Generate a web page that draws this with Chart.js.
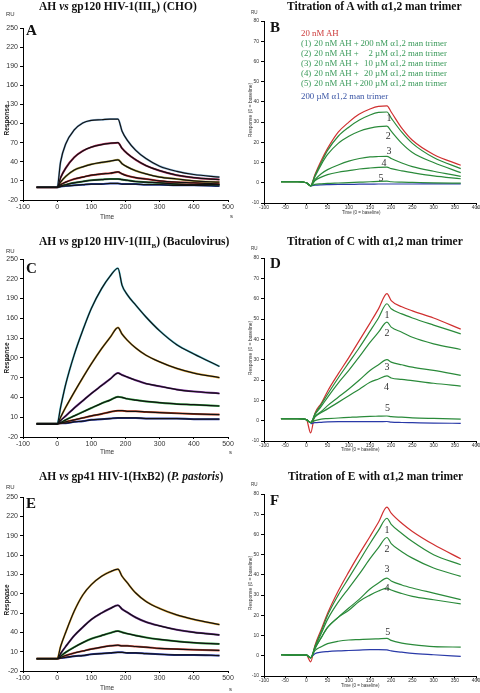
<!DOCTYPE html>
<html>
<head>
<meta charset="utf-8">
<script src="https://cdn.jsdelivr.net/npm/chart.js@4"></script>
<style>
  body { margin: 0; width: 480px; height: 693px; background: #fff; position: relative; overflow: hidden; font-family: "Liberation Serif", serif; }
  canvas { position: absolute; }
  .title { position: absolute; font-weight: bold; font-size: 11.5px; white-space: nowrap; color: #111; }
  .title sub { font-size: 7px; }
  .letter { position: absolute; font-weight: bold; font-size: 15px; color: #111; }
  .small { position: absolute; font-family: "Liberation Sans", sans-serif; font-size: 6px; color: #333; white-space: nowrap; }
  .ylab { position: absolute; font-family: "Liberation Sans", sans-serif; font-weight: bold; font-size: 6.5px; color: #222; white-space: nowrap; transform: translate(-50%, -50%) rotate(-90deg); }
  .ylab2 { position: absolute; font-family: "Liberation Sans", sans-serif; font-size: 5px; color: #333; white-space: nowrap; transform: translate(-50%, -50%) rotate(-90deg); }
  .legend { position: absolute; font-size: 8.8px; line-height: 10px; white-space: nowrap; }
  .legend span { display: inline-block; white-space: nowrap; }
  .c1 { width: 13px; }
  .c2 { width: 45px; }
  .c3 { width: 29px; text-align: right; }
</style>
</head>
<body>
<canvas id="cA" width="240" height="230" style="left:0;top:0"></canvas>
<canvas id="cB" width="240" height="230" style="left:240px;top:0"></canvas>
<canvas id="cC" width="240" height="230" style="left:0;top:230px"></canvas>
<canvas id="cD" width="240" height="230" style="left:240px;top:230px"></canvas>
<canvas id="cE" width="240" height="233" style="left:0;top:460px"></canvas>
<canvas id="cF" width="240" height="233" style="left:240px;top:460px"></canvas>

<div class="title" style="left:39px;top:0px">AH <i>vs</i> gp120 HIV-1(III<sub>B</sub>) (CHO)</div>
<div class="title" style="left:287px;top:0px">Titration of A with α1,2 man trimer</div>
<div class="title" style="left:39px;top:235px">AH <i>vs</i> gp120 HIV-1(III<sub>B</sub>) (Baculovirus)</div>
<div class="title" style="left:287px;top:235px">Titration of C with α1,2 man trimer</div>
<div class="title" style="left:39px;top:470px">AH <i>vs</i> gp41 HIV-1(HxB2) (<i>P. pastoris</i>)</div>
<div class="title" style="left:288px;top:470px">Titration of E with α1,2 man trimer</div>

<div class="letter" style="left:26px;top:22px">A</div>
<div class="letter" style="left:270px;top:19px">B</div>
<div class="letter" style="left:26px;top:260px">C</div>
<div class="letter" style="left:270px;top:255px">D</div>
<div class="letter" style="left:26px;top:495px">E</div>
<div class="letter" style="left:270px;top:492px">F</div>

<div class="small" style="left:6px;top:11px">RU</div>
<div class="small" style="left:251px;top:10px;font-size:4.5px">RU</div>
<div class="small" style="left:6px;top:248px">RU</div>
<div class="small" style="left:251px;top:246px;font-size:4.5px">RU</div>
<div class="small" style="left:6px;top:484px">RU</div>
<div class="small" style="left:251px;top:482px;font-size:4.5px">RU</div>

<div class="small" style="left:230px;top:213px">s</div>
<div class="small" style="left:476px;top:204px;font-size:5px">s</div>
<div class="small" style="left:229px;top:449px">s</div>
<div class="small" style="left:476px;top:441px;font-size:5px">s</div>
<div class="small" style="left:229px;top:686px">s</div>
<div class="small" style="left:476px;top:676px;font-size:5px">s</div>

<div class="small" style="left:100px;top:213px;font-size:6.5px">Time</div>
<div class="small" style="left:100px;top:448px;font-size:6.5px">Time</div>
<div class="small" style="left:100px;top:684px;font-size:6.5px">Time</div>
<div class="small" style="left:342px;top:210px;font-size:4.5px">Time (0 = baseline)</div>
<div class="small" style="left:341px;top:447px;font-size:4.5px">Time (0 = baseline)</div>
<div class="small" style="left:341px;top:683px;font-size:4.5px">Time (0 = baseline)</div>

<div class="ylab" style="left:6px;top:120px">Response</div>
<div class="ylab" style="left:6px;top:358px">Response</div>
<div class="ylab" style="left:6px;top:600px">Response</div>
<div class="ylab2" style="left:250px;top:110px">Response (0 = baseline)</div>
<div class="ylab2" style="left:250px;top:348px">Response (0 = baseline)</div>
<div class="ylab2" style="left:250px;top:583px">Response (0 = baseline)</div>

<div class="legend" style="left:301px;top:28px">
  <div style="color:#cc3a3a">20 nM AH</div>
  <div style="color:#3a9a5a"><span class="c1">(1)</span><span class="c2">20 nM AH +</span><span class="c3">200 nM</span>&nbsp;α1,2 man trimer</div>
  <div style="color:#3a9a5a"><span class="c1">(2)</span><span class="c2">20 nM AH +</span><span class="c3">2 µM</span>&nbsp;α1,2 man trimer</div>
  <div style="color:#3a9a5a"><span class="c1">(3)</span><span class="c2">20 nM AH +</span><span class="c3">10 µM</span>&nbsp;α1,2 man trimer</div>
  <div style="color:#3a9a5a"><span class="c1">(4)</span><span class="c2">20 nM AH +</span><span class="c3">20 µM</span>&nbsp;α1,2 man trimer</div>
  <div style="color:#3a9a5a"><span class="c1">(5)</span><span class="c2">20 nM AH +</span><span class="c3">200 µM</span>&nbsp;α1,2 man trimer</div>
  <div style="color:#3a55a5;margin-top:2.5px">200 µM α1,2 man trimer</div>
</div>

<script>
// time axes (s)
const timeLeft = [-60, 0, 10, 25, 50, 75, 100, 130, 155, 178, 190, 205, 230, 260, 300, 350, 400, 475];
const timeRight = [-60, -20, 0, 10, 20, 35, 50, 75, 100, 125, 150, 170, 190, 200, 225, 250, 300, 364];

// A: AH vs gp120 (CHO), RU
const choResp = [
  [0, 0, 40, 68, 90, 101, 105, 106, 107, 107, 88, 74, 58, 45, 33, 25, 20, 16],
  [0, 0, 15, 30, 47, 57, 63, 67, 69, 70, 61, 53, 43, 34, 26, 19, 15, 12],
  [0, 0, 8, 17, 27, 32, 36, 39, 41, 43, 37, 32, 26, 21, 16, 13, 10, 8],
  [0, 0, 4, 8, 13, 16, 19, 21, 22, 24, 21, 18, 15, 13, 10, 8, 7, 5],
  [0, 0, 2, 4, 7, 9, 11, 12, 13, 13, 12, 11, 9, 8, 7, 5, 4, 4],
  [0, 0, 1, 2, 3, 4, 5, 5, 6, 6, 5, 5, 5, 4, 4, 3, 3, 2]
];
// C: AH vs gp120 (Baculovirus)
const bacResp = [
  [0, 0, 25, 60, 105, 142, 175, 205, 224, 236, 210, 196, 180, 162, 141, 120, 106, 87],
  [0, 0, 10, 25, 48, 70, 91, 114, 131, 146, 136, 127, 115, 104, 94, 84, 77, 70],
  [0, 0, 5, 12, 24, 35, 46, 58, 68, 77, 74, 71, 66, 61, 57, 52, 49, 46],
  [0, 0, 2, 6, 12, 18, 24, 31, 36, 41, 40, 38, 36, 34, 32, 30, 29, 27],
  [0, 0, 1, 3, 6, 9, 12, 15, 18, 20, 20, 19, 19, 18, 17, 16, 15, 14],
  [0, 0, 1, 1, 3, 4, 6, 7, 8, 9, 9, 9, 9, 8, 8, 8, 7, 7]
];
// E: AH vs gp41 (P. pastoris)
const pasResp = [
  [-1, -1, 18, 40, 73, 98, 114, 127, 134, 138, 127, 117, 101, 88, 77, 67, 60, 52],
  [-1, -1, 7, 18, 35, 48, 60, 70, 77, 82, 76, 71, 63, 56, 50, 44, 40, 36],
  [-1, -1, 3, 9, 17, 24, 30, 35, 39, 42, 40, 38, 35, 32, 29, 26, 24, 22],
  [-1, -1, 1, 4, 8, 11, 14, 17, 19, 20, 19, 19, 18, 17, 15, 14, 13, 12],
  [-1, -1, 0, 1, 3, 4, 6, 7, 8, 9, 9, 8, 8, 7, 6, 5, 5, 4]
];

// B: titration of A (20 nM AH, mixes 1-5, trimer alone)
const titrA = [
  [0.5, 0.5, 0, -1.5, 4, 11, 17, 25, 30, 34, 36.5, 37.8, 38, 35, 27, 21, 14, 8.7],
  [0.5, 0.5, 0, -1.5, 3.5, 10, 16, 23, 27.5, 31, 33.5, 34.8, 35, 32, 25, 19.5, 12.5, 7],
  [0.5, 0.5, 0, -1.5, 3, 9, 14, 19.5, 23, 25.5, 27, 27.8, 28, 25.5, 19.5, 15, 10, 5],
  [0.5, 0.5, 0, -1.5, 1.5, 4.5, 6.5, 8.8, 10.7, 12, 12.8, 13, 13.1, 12, 9.8, 8, 5.7, 3.2],
  [0.5, 0.5, 0, -1.5, 1, 2.8, 4, 5.2, 6, 6.8, 7.3, 7.6, 7.7, 7, 5.9, 5, 3.4, 2],
  [0.5, 0.5, 0, -1.5, -0.8, -0.5, -0.3, -0.1, 0.1, 0.3, 0.5, 0.7, 0.8, 0.5, 0.3, 0.2, 0, -0.2],
  [null, null, null, -1.5, -1.2, -1, -0.9, -0.8, -0.8, -0.7, -0.7, -0.6, -0.6, -0.6, -0.6, -0.6, -0.5, -0.5]
];
// D: titration of C
const titrC = [
  [1, 1, 0.5, -6, 3.5, 8.5, 14.5, 23, 31, 39.5, 48, 55, 62.5, 59, 56, 54, 50.5, 45],
  [1, 1, 0.5, -1, 3.2, 8, 13, 21, 28.5, 36, 44, 50.5, 57.5, 55, 52.5, 50.5, 47, 42.7],
  [1, 1, 0.5, -1, 3, 7, 11.5, 18.5, 24.7, 31.5, 38.5, 43.5, 48.5, 46, 43.5, 41, 37.8, 35],
  [1, 1, 0.5, -1, 2, 4.5, 7.4, 11.5, 15.6, 20, 24.7, 27.5, 30, 28.8, 27.5, 26.3, 24.7, 22.3],
  [1, 1, 0.5, -1, 1.8, 4, 5.8, 9, 12.3, 15.5, 18.9, 20.5, 22, 21, 20.3, 19.7, 18.4, 17],
  [1, 1, 0.5, -1, 0, 0.8, 1, 1.3, 1.6, 1.9, 2.1, 2.2, 2.3, 2, 1.7, 1.4, 1.1, 0.8],
  [null, null, null, -1.5, -1, -0.8, -0.6, -0.5, -0.5, -0.5, -0.5, -0.5, -0.4, -0.7, -0.9, -1, -1.2, -1.3]
];
// F: titration of E
const titrE = [
  [0.5, 0.3, 0.3, -3, 5, 13, 21, 32, 41.5, 50.5, 59, 66, 73.5, 70.5, 65.5, 61.5, 55, 48],
  [0.5, 0.3, 0.3, -1, 4.5, 12, 20, 30, 38.5, 47, 55.5, 62, 68, 65, 60.5, 56.5, 50, 45],
  [0.5, 0.3, 0.3, -1, 4, 11, 18, 26.5, 33.5, 40.5, 48, 53.5, 58.5, 55.5, 51.5, 48.3, 43.4, 39.3],
  [0.5, 0.3, 0.3, -1, 3.5, 9, 14, 19, 23.6, 28, 33, 36, 38.4, 37, 35, 33.5, 31, 27.8],
  [0.5, 0.3, 0.3, -1, 3.5, 9, 14, 19, 22.5, 27, 30, 32, 33.5, 32.5, 30.8, 29.4, 27.7, 25.7],
  [0.5, 0.3, 0.3, -1, 2.5, 4.5, 6, 7.2, 7.8, 8, 8.2, 8.4, 8.6, 7.6, 6.3, 5.5, 4.5, 4.3],
  [null, null, null, -1, 1, 1.8, 2.1, 2.4, 2.6, 2.8, 3, 3, 2.9, 2.4, 1.8, 1.2, 0.5, -0.3]
];

// curve number labels (1..5) in B, D, F
const markText = ['1', '2', '3', '4', '5'];
const marksB = { x: [195, 193, 195, 183, 176], y: [32, 23, 15.5, 9.4, 2.4] };
const marksD = { x: [190, 190, 190, 189, 191], y: [52, 43, 26.3, 16.4, 6.1] };
const marksF = { x: [190, 190, 190, 190, 192], y: [62, 52.8, 42.6, 33.5, 11.6] };

const colA = ['#8ab4d8', '#b02858', '#a89838', '#c83030', '#2a7a3a', '#2848b0'];
const colC = ['#60c8d8', '#e0a838', '#7a2a9a', '#30a040', '#c84020', '#2838a8'];
const colE = ['#e0a838', '#6a2a8a', '#30a040', '#c84838', '#2838a8'];
const colTitr = ['#d03030', '#2a8a3a', '#2a8a3a', '#2a8a3a', '#2a8a3a', '#2a8a3a', '#2a3aa8'];

const toPts = (times, vals) => times.map((t, i) => ({ x: t, y: vals[i] }));

const markPlugin = {
  id: 'marks',
  afterDatasetsDraw(chart, args, opts) {
    if (!opts.x) return;
    const { ctx, scales } = chart;
    ctx.save();
    ctx.font = '10px "Liberation Serif", serif';
    ctx.fillStyle = '#333';
    ctx.textAlign = 'center';
    ctx.textBaseline = 'middle';
    markText.forEach((m, i) => {
      ctx.fillText(m, scales.x.getPixelForValue(opts.x[i]), scales.y.getPixelForValue(opts.y[i]));
    });
    ctx.restore();
  }
};

function sensorgram(id, cfg) {
  const datasets = [];
  cfg.series.forEach((s, i) => {
    if (cfg.fit) {
      // measured trace (coloured) under the black fitted curve
      datasets.push({ data: toPts(cfg.times, s), borderColor: cfg.colors[i], borderWidth: 2, order: 1 });
      datasets.push({ data: toPts(cfg.times, s), borderColor: '#111', borderWidth: 1.2, order: 0 });
    } else {
      datasets.push({ data: toPts(cfg.times, s), borderColor: cfg.colors[i], borderWidth: 1.2, order: i === 0 ? 2 : 1 });
    }
  });
  const tickFont = { size: cfg.fs, family: '"Liberation Sans", sans-serif' };
  new Chart(document.getElementById(id), {
    type: 'line',
    data: { datasets },
    options: {
      responsive: false,
      animation: false,
      layout: { padding: cfg.pad },
      plugins: { legend: { display: false }, tooltip: { enabled: false }, marks: cfg.marks || {} },
      elements: { point: { radius: 0 }, line: { cubicInterpolationMode: 'monotone', fill: false } },
      scales: {
        x: {
          type: 'linear', min: cfg.x[0], max: cfg.x[1],
          ticks: { stepSize: cfg.x[2], maxRotation: 0, autoSkip: false, font: tickFont, color: '#333', padding: cfg.xp },
          grid: { drawOnChartArea: false, tickLength: 2, color: '#000' },
          border: { color: '#000' },
          afterFit(s) { s.height = cfg.xh; s.paddingLeft = 0; s.paddingRight = 0; }
        },
        y: {
          min: cfg.y[0], max: cfg.y[1],
          ticks: { stepSize: cfg.y[2], autoSkip: false, font: tickFont, color: '#333', padding: 2 },
          grid: { drawOnChartArea: false, tickLength: 3, color: '#000' },
          border: { color: '#000' },
          afterFit(s) { s.width = cfg.yw; s.paddingTop = 0; s.paddingBottom = 0; }
        }
      }
    },
    plugins: [markPlugin]
  });
}

const leftX = [-100, 500, 100];
const leftY = [-20, 250, 30];
const rightX = [-100, 400, 50];
const rightY = [-10, 80, 10];

sensorgram('cA', { times: timeLeft, series: choResp, colors: colA, fit: true, x: leftX, y: leftY, fs: 7, xp: 1, yw: 23, xh: 14, pad: { top: 28, right: 12, bottom: 16, left: 0 } });
sensorgram('cC', { times: timeLeft, series: bacResp, colors: colC, fit: true, x: leftX, y: leftY, fs: 7, xp: 1, yw: 23, xh: 14, pad: { top: 29, right: 12, bottom: 9, left: 0 } });
sensorgram('cE', { times: timeLeft, series: pasResp, colors: colE, fit: true, x: leftX, y: leftY, fs: 7, xp: 1, yw: 23, xh: 14, pad: { top: 37, right: 12, bottom: 8, left: 0 } });
sensorgram('cB', { times: timeRight, series: titrA, colors: colTitr, x: rightX, y: rightY, fs: 5, xp: 0, yw: 24, xh: 12, marks: marksB, pad: { top: 21, right: 4, bottom: 15, left: 0 } });
sensorgram('cD', { times: timeRight, series: titrC, colors: colTitr, x: rightX, y: rightY, fs: 5, xp: 0, yw: 24, xh: 12, marks: marksD, pad: { top: 28, right: 4, bottom: 7, left: 0 } });
sensorgram('cF', { times: timeRight, series: titrE, colors: colTitr, x: rightX, y: rightY, fs: 5, xp: 0, yw: 24, xh: 12, marks: marksF, pad: { top: 34, right: 4, bottom: 5, left: 0 } });
</script>
</body>
</html>
